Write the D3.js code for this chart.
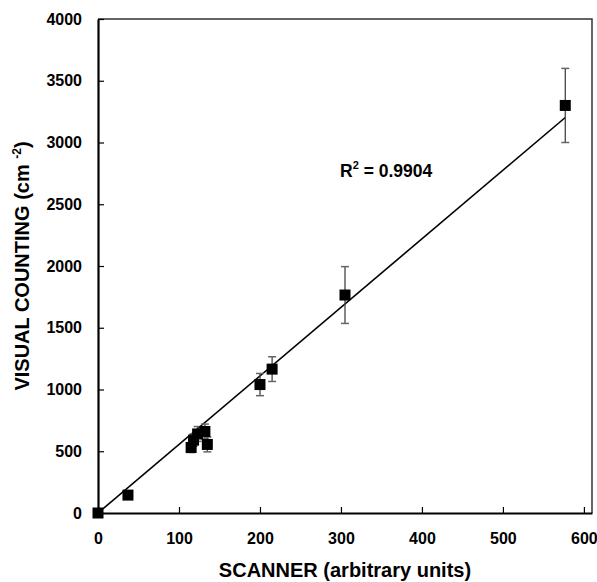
<!DOCTYPE html>
<html>
<head>
<meta charset="utf-8">
<script src="https://cdn.jsdelivr.net/npm/d3@7"></script>
<style>
  body { margin: 0; background: #fff; }
  text { font-family: "Liberation Sans", Arial, sans-serif; font-weight: bold; }
</style>
</head>
<body>
<div id="chart"></div>
<script>
// scanner readings (arbitrary units)
const scanner = [0, 37, 115, 118, 123, 132, 135, 200, 215, 305, 577];
// visual counting (cm^-2)
const visual = [0, 145, 530, 590, 640, 660, 555, 1040, 1165, 1765, 3300];
// error bar half-widths
const errors = [0, 0, 40, 50, 60, 60, 60, 90, 100, 230, 300];
const xTicks = [0, 100, 200, 300, 400, 500, 600];
const yTicks = [0, 500, 1000, 1500, 2000, 2500, 3000, 3500, 4000];
const fitSlope = 5.55;
const fitIntercept = 0;
const fitRange = [0, 577];
const r2Label = "0.9904";

const width = 597, height = 582;
const margin = { top: 19, right: 5, bottom: 69, left: 98 };
const font = "'Liberation Sans', Arial, sans-serif";

const svg = d3.select("#chart").append("svg")
  .attr("width", width)
  .attr("height", height);

const x = d3.scaleLinear().domain([0, 610]).range([margin.left, width - margin.right]);
const y = d3.scaleLinear().domain([0, 4000]).range([height - margin.bottom, margin.top]);

// frame top / right
svg.append("path")
  .attr("d", `M${x(0)},${y(4000)}H${x(610)}V${y(0)}`)
  .attr("fill", "none")
  .attr("stroke", "#333")
  .attr("stroke-width", 1.5);

const xAxis = svg.append("g")
  .attr("transform", `translate(0,${y(0)})`)
  .call(d3.axisBottom(x).tickValues(xTicks).tickFormat(d3.format("d"))
    .tickSize(-6).tickSizeOuter(0).tickPadding(20));
const yAxis = svg.append("g")
  .attr("transform", `translate(${x(0)},0)`)
  .call(d3.axisLeft(y).tickValues(yTicks).tickFormat(d3.format("d"))
    .tickSize(-6).tickSizeOuter(0).tickPadding(16));

[xAxis, yAxis].forEach(g => {
  g.attr("font-family", font).attr("font-size", 16).attr("font-weight", "bold");
  g.select(".domain").attr("stroke", "#000").attr("stroke-width", 2.2);
  g.selectAll(".tick line").attr("stroke", "#000").attr("stroke-width", 1.2);
  g.selectAll(".tick text").attr("fill", "#000");
});

// regression line
svg.append("line")
  .attr("x1", x(fitRange[0])).attr("y1", y(fitIntercept + fitSlope * fitRange[0]))
  .attr("x2", x(fitRange[1])).attr("y2", y(fitIntercept + fitSlope * fitRange[1]))
  .attr("stroke", "#000")
  .attr("stroke-width", 1.6);

const pts = scanner.map((s, i) => ({ s, v: visual[i], e: errors[i] }));

// error bars
const eb = svg.append("g");
pts.filter(d => d.e > 0).forEach(d => {
  eb.append("line")
    .attr("x1", x(d.s)).attr("x2", x(d.s))
    .attr("y1", y(d.v + d.e)).attr("y2", y(d.v - d.e))
    .attr("stroke", "#444").attr("stroke-width", 1.3);
  [d.v + d.e, d.v - d.e].forEach(v => {
    eb.append("line")
      .attr("x1", x(d.s) - 4).attr("x2", x(d.s) + 4)
      .attr("y1", y(v)).attr("y2", y(v))
      .attr("stroke", "#666").attr("stroke-width", 1.5);
  });
});

// markers
const sz = 11;
svg.append("g").selectAll("rect")
  .data(pts)
  .join("rect")
  .attr("x", d => x(d.s) - sz / 2)
  .attr("y", d => y(d.v) - sz / 2)
  .attr("width", sz)
  .attr("height", sz)
  .attr("fill", "#000");

// R^2 annotation
const r2 = svg.append("text")
  .attr("x", 340).attr("y", 177)
  .style("font-size", "17.5px");
r2.append("tspan").text("R");
r2.append("tspan").attr("dy", -8).style("font-size", "11px").text("2");
r2.append("tspan").attr("dy", 8).text("\u00a0= " + r2Label);

// axis titles
svg.append("text")
  .attr("x", 345).attr("y", 577)
  .attr("text-anchor", "middle")
  .style("font-size", "20px")
  .text("SCANNER (arbitrary units)");

const yt = svg.append("text")
  .attr("transform", `translate(29,${(y(0) + y(4000)) / 2}) rotate(-90)`)
  .attr("text-anchor", "middle")
  .style("font-size", "20px");
yt.append("tspan").text("VISUAL COUNTING (cm ");
yt.append("tspan").attr("dy", -8).style("font-size", "12px").text("-2");
yt.append("tspan").attr("dy", 8).text(")");
</script>
</body>
</html>
